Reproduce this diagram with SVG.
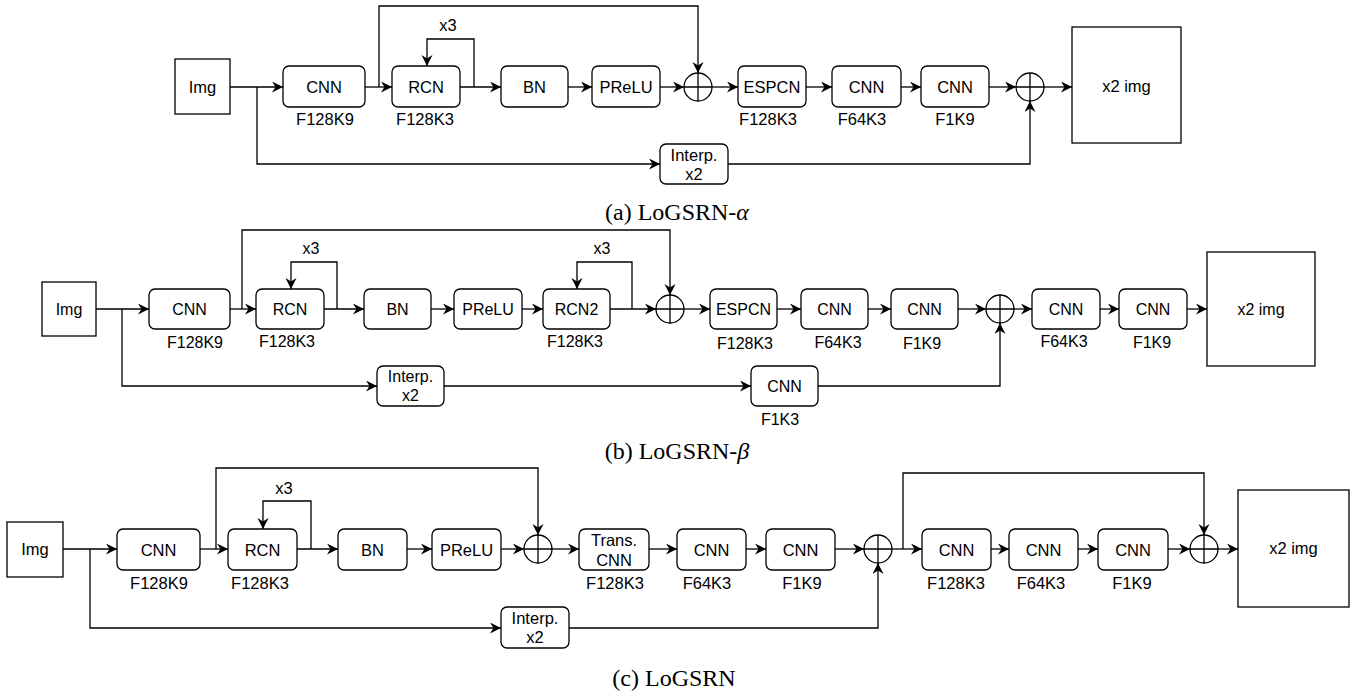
<svg xmlns="http://www.w3.org/2000/svg" width="1357" height="691" viewBox="0 0 1357 691">
<style>
.box{fill:#fff;stroke:#000;stroke-width:1.3}
.sum{fill:none;stroke:#000;stroke-width:1.3}
.t{font-family:"Liberation Sans",Arial,sans-serif;font-size:16.5px;fill:#000;text-anchor:middle;dominant-baseline:central}
.tb{font-size:16px}
.cap{font-family:"Liberation Serif","Times New Roman",serif;font-size:24px;fill:#000;text-anchor:middle}
.cn path{fill:none;stroke:#000;stroke-width:1.3;marker-end:url(#ah)}
</style>
<defs>
<marker id="ah" markerUnits="userSpaceOnUse" markerWidth="12" markerHeight="12" refX="11" refY="5.5" orient="auto">
<path d="M0,0 L11,5.5 L0,11 L3.5,5.5 Z" fill="#000"/>
</marker>
</defs>
<rect width="1357" height="691" fill="#fff"/>

<!-- (a) -->
<g id="a_connectors" class="cn">
<path d="M230,87 H283"/>
<path d="M257,87 V164 H660"/>
<path d="M365,87 H392"/>
<path d="M379,87 V6 H698 V73"/>
<path d="M460,87 H501"/>
<path d="M474,87 V39 H427 V66"/>
<path d="M568,87 H592"/>
<path d="M660,87 H684"/>
<path d="M712,87 H738"/>
<path d="M806,87 H832"/>
<path d="M901,87 H921"/>
<path d="M989,87 H1016"/>
<path d="M1044,87 H1072"/>
<path d="M728,164 H1030 V101"/>
</g>
<g id="a_img"><rect class="box" x="175" y="59" width="55" height="55"/><text class="t" x="202.5" y="87">Img</text></g>
<g id="a_cnn1"><rect class="box" x="283" y="66" width="82" height="41" rx="6"/><text class="t" x="324" y="87">CNN</text><text class="t" x="325" y="119">F128K9</text></g>
<g id="a_rcn"><rect class="box" x="392" y="66" width="68" height="41" rx="6"/><text class="t" x="426" y="87">RCN</text><text class="t" x="425" y="119">F128K3</text><text class="t" x="448" y="25">x3</text></g>
<g id="a_bn"><rect class="box" x="501" y="66" width="67" height="41" rx="6"/><text class="t" x="534.5" y="87">BN</text></g>
<g id="a_prelu"><rect class="box" x="592" y="66" width="68" height="41" rx="6"/><text class="t" x="626" y="87">PReLU</text></g>
<g id="a_sum1"><circle class="sum" cx="698" cy="87" r="14"/><path class="sum" d="M684,87 H712 M698,73 V101"/></g>
<g id="a_espcn"><rect class="box" x="738" y="66" width="68" height="41" rx="6"/><text class="t" x="772" y="87">ESPCN</text><text class="t" x="768" y="119">F128K3</text></g>
<g id="a_cnn2"><rect class="box" x="832" y="66" width="69" height="41" rx="6"/><text class="t" x="866.5" y="87">CNN</text><text class="t" x="862" y="119">F64K3</text></g>
<g id="a_cnn3"><rect class="box" x="921" y="66" width="68" height="41" rx="6"/><text class="t" x="955" y="87">CNN</text><text class="t" x="955" y="119">F1K9</text></g>
<g id="a_sum2"><circle class="sum" cx="1030" cy="87" r="14"/><path class="sum" d="M1016,87 H1044 M1030,73 V101"/></g>
<g id="a_interp"><rect class="box" x="660" y="144" width="68" height="40" rx="6"/><text class="t" x="694" y="154.5">Interp.</text><text class="t" x="694" y="173.5">x2</text></g>
<g id="a_out"><rect class="box" x="1072" y="27" width="109" height="116"/><text class="t" x="1126.5" y="86">x2 img</text></g>
<text class="cap" x="677" y="220">(a) LoGSRN-<tspan font-style="italic">α</tspan></text>

<!-- (b) -->
<g id="b_connectors" class="cn">
<path d="M96,309 H149"/>
<path d="M122,309 V386 H377"/>
<path d="M444,386 H751"/>
<path d="M818,386 H1000 V323"/>
<path d="M230,309 H256"/>
<path d="M242,309 V230 H670 V295"/>
<path d="M324,309 H364"/>
<path d="M337,309 V262 H291 V289"/>
<path d="M431,309 H454"/>
<path d="M522,309 H543"/>
<path d="M610,309 H656"/>
<path d="M632,309 V262 H577 V289"/>
<path d="M684,309 H710"/>
<path d="M777,309 H801"/>
<path d="M868,309 H891"/>
<path d="M958,309 H986"/>
<path d="M1014,309 H1032"/>
<path d="M1100,309 H1119"/>
<path d="M1187,309 H1207"/>
</g>
<g id="b_img"><rect class="box" x="42" y="282" width="54" height="54"/><text class="t tb" x="69" y="309">Img</text></g>
<g id="b_cnn1"><rect class="box" x="149" y="289" width="81" height="40" rx="6"/><text class="t tb" x="189.5" y="309">CNN</text><text class="t tb" x="195" y="342">F128K9</text></g>
<g id="b_rcn"><rect class="box" x="256" y="289" width="68" height="40" rx="6"/><text class="t tb" x="290" y="309">RCN</text><text class="t tb" x="287" y="341">F128K3</text><text class="t tb" x="311" y="248">x3</text></g>
<g id="b_bn"><rect class="box" x="364" y="289" width="67" height="40" rx="6"/><text class="t tb" x="397.5" y="309">BN</text></g>
<g id="b_prelu"><rect class="box" x="454" y="289" width="68" height="40" rx="6"/><text class="t tb" x="488" y="309">PReLU</text></g>
<g id="b_rcn2"><rect class="box" x="543" y="289" width="67" height="40" rx="6"/><text class="t tb" x="576.5" y="309">RCN2</text><text class="t tb" x="575" y="341">F128K3</text><text class="t tb" x="602" y="248">x3</text></g>
<g id="b_sum1"><circle class="sum" cx="670" cy="309" r="14"/><path class="sum" d="M656,309 H684 M670,295 V323"/></g>
<g id="b_espcn"><rect class="box" x="710" y="289" width="67" height="40" rx="6"/><text class="t tb" x="743.5" y="309">ESPCN</text><text class="t tb" x="745" y="343">F128K3</text></g>
<g id="b_cnn2"><rect class="box" x="801" y="289" width="67" height="40" rx="6"/><text class="t tb" x="834.5" y="309">CNN</text><text class="t tb" x="838" y="342">F64K3</text></g>
<g id="b_cnn3"><rect class="box" x="891" y="289" width="67" height="40" rx="6"/><text class="t tb" x="924.5" y="309">CNN</text><text class="t tb" x="922" y="343">F1K9</text></g>
<g id="b_sum2"><circle class="sum" cx="1000" cy="309" r="14"/><path class="sum" d="M986,309 H1014 M1000,295 V323"/></g>
<g id="b_cnn4"><rect class="box" x="1032" y="289" width="68" height="40" rx="6"/><text class="t tb" x="1066" y="309">CNN</text><text class="t tb" x="1064" y="341">F64K3</text></g>
<g id="b_cnn5"><rect class="box" x="1119" y="289" width="68" height="40" rx="6"/><text class="t tb" x="1153" y="309">CNN</text><text class="t tb" x="1152" y="342">F1K9</text></g>
<g id="b_interp"><rect class="box" x="377" y="366" width="67" height="40" rx="6"/><text class="t tb" x="410.5" y="376">Interp.</text><text class="t tb" x="410.5" y="395">x2</text></g>
<g id="b_cnn_low"><rect class="box" x="751" y="366" width="67" height="40" rx="6"/><text class="t tb" x="784.5" y="386">CNN</text><text class="t tb" x="780" y="419">F1K3</text></g>
<g id="b_out"><rect class="box" x="1207" y="252" width="108" height="114"/><text class="t tb" x="1261" y="309">x2 img</text></g>
<text class="cap" x="677" y="459">(b) LoGSRN-<tspan font-style="italic">β</tspan></text>

<!-- (c) -->
<g id="c_connectors" class="cn">
<path d="M63,549 H117"/>
<path d="M90,549 V628 H501"/>
<path d="M569,628 H878 V563"/>
<path d="M200,549 H228"/>
<path d="M216,549 V468 H538 V535"/>
<path d="M297,549 H338"/>
<path d="M311,549 V501 H263 V529"/>
<path d="M407,549 H432"/>
<path d="M501,549 H524"/>
<path d="M552,549 H579"/>
<path d="M649,549 H677"/>
<path d="M746,549 H766"/>
<path d="M835,549 H864"/>
<path d="M892,549 H922"/>
<path d="M903,549 V473 H1204 V535"/>
<path d="M991,549 H1009"/>
<path d="M1078,549 H1098"/>
<path d="M1168,549 H1190"/>
<path d="M1218,549 H1238"/>
</g>
<g id="c_img"><rect class="box" x="7" y="522" width="56" height="55"/><text class="t" x="35" y="549">Img</text></g>
<g id="c_cnn1"><rect class="box" x="117" y="529" width="83" height="41" rx="6"/><text class="t" x="158.5" y="549.5">CNN</text><text class="t" x="159" y="583">F128K9</text></g>
<g id="c_rcn"><rect class="box" x="228" y="529" width="69" height="41" rx="6"/><text class="t" x="262.5" y="549.5">RCN</text><text class="t" x="260" y="583">F128K3</text><text class="t" x="284" y="488">x3</text></g>
<g id="c_bn"><rect class="box" x="338" y="529" width="69" height="41" rx="6"/><text class="t" x="372.5" y="549.5">BN</text></g>
<g id="c_prelu"><rect class="box" x="432" y="529" width="69" height="41" rx="6"/><text class="t" x="466.5" y="549.5">PReLU</text></g>
<g id="c_sum1"><circle class="sum" cx="538" cy="549" r="14"/><path class="sum" d="M524,549 H552 M538,535 V563"/></g>
<g id="c_trans"><rect class="box" x="579" y="529" width="70" height="41" rx="6"/><text class="t" x="614" y="539.5">Trans.</text><text class="t" x="614" y="560">CNN</text><text class="t" x="615" y="583">F128K3</text></g>
<g id="c_cnn2"><rect class="box" x="677" y="529" width="69" height="41" rx="6"/><text class="t" x="711.5" y="549.5">CNN</text><text class="t" x="707" y="583">F64K3</text></g>
<g id="c_cnn3"><rect class="box" x="766" y="529" width="69" height="41" rx="6"/><text class="t" x="800.5" y="549.5">CNN</text><text class="t" x="802" y="583">F1K9</text></g>
<g id="c_sum2"><circle class="sum" cx="878" cy="549" r="14"/><path class="sum" d="M864,549 H892 M878,535 V563"/></g>
<g id="c_cnn4"><rect class="box" x="922" y="529" width="69" height="41" rx="6"/><text class="t" x="956.5" y="549.5">CNN</text><text class="t" x="956" y="583">F128K3</text></g>
<g id="c_cnn5"><rect class="box" x="1009" y="529" width="69" height="41" rx="6"/><text class="t" x="1043.5" y="549.5">CNN</text><text class="t" x="1041" y="583">F64K3</text></g>
<g id="c_cnn6"><rect class="box" x="1098" y="529" width="70" height="41" rx="6"/><text class="t" x="1133" y="549.5">CNN</text><text class="t" x="1132" y="583">F1K9</text></g>
<g id="c_sum3"><circle class="sum" cx="1204" cy="549" r="14"/><path class="sum" d="M1190,549 H1218 M1204,535 V563"/></g>
<g id="c_interp"><rect class="box" x="501" y="607" width="68" height="41" rx="6"/><text class="t" x="535" y="618">Interp.</text><text class="t" x="535" y="637">x2</text></g>
<g id="c_out"><rect class="box" x="1238" y="490" width="111" height="117"/><text class="t" x="1293.5" y="548">x2 img</text></g>
<text class="cap" x="674" y="686">(c) LoGSRN</text>
</svg>
